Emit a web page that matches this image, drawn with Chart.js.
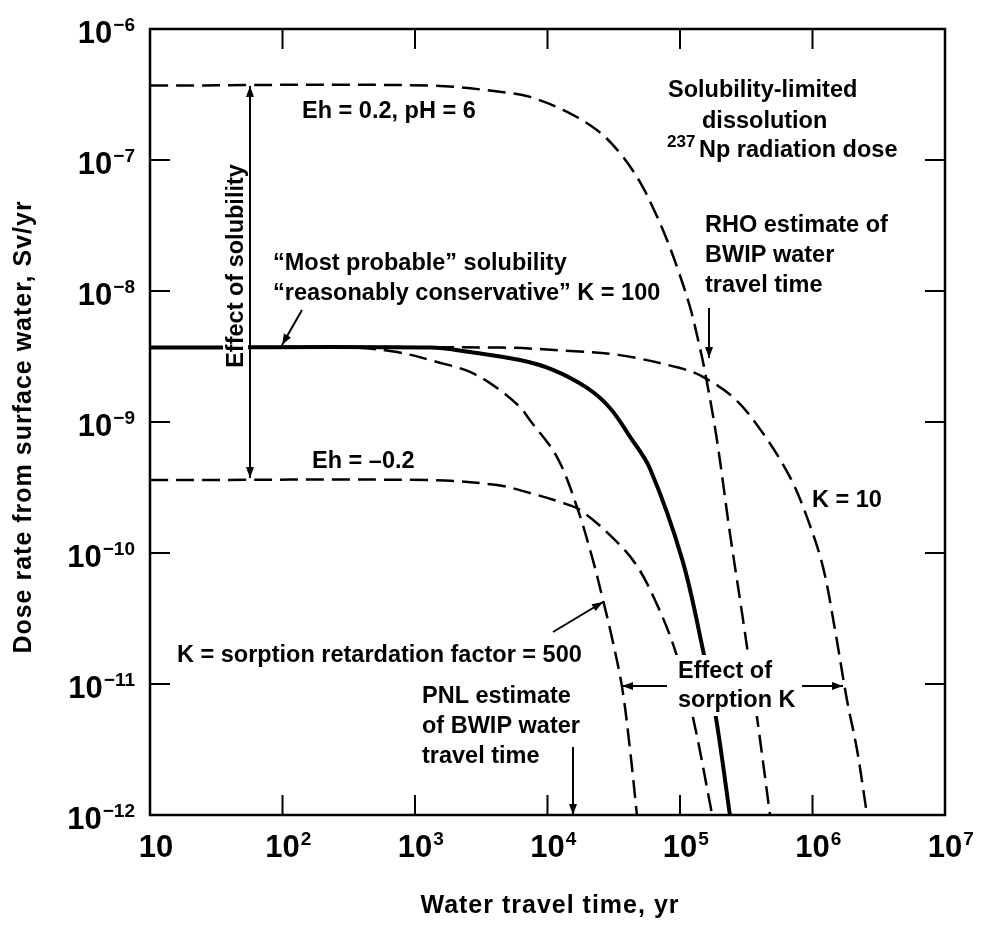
<!DOCTYPE html>
<html><head><meta charset="utf-8">
<script src="https://cdn.jsdelivr.net/npm/chart.js@4.4.1/dist/chart.umd.min.js"></script>
<style>html,body{margin:0;padding:0;background:#fff}canvas{display:block}</style>
</head><body>
<canvas id="c" width="983" height="925"></canvas>
<script>
// ---------- tick values and labels ----------
const xTickValues = [1e1, 1e2, 1e3, 1e4, 1e5, 1e6, 1e7];
const xTickBase = ['10', '10', '10', '10', '10', '10', '10'];
const xTickExp = ['', '2', '3', '4', '5', '6', '7'];
const yTickValues = [1e-12, 1e-11, 1e-10, 1e-9, 1e-8, 1e-7, 1e-6];
const yTickBase = ['10', '10', '10', '10', '10', '10', '10'];
const yTickExp = ['\u221212', '\u221211', '\u221210', '\u22129', '\u22128', '\u22127', '\u22126'];

// ---------- series (water travel time, yr  /  dose rate, Sv/yr) ----------
// Eh = 0.2, pH = 6 (dashed)
const timeEhHigh = [1e1, 1.3e3, 5.2e3, 7.4e3, 1.31e4, 2.37e4, 3.52e4, 4.99e4, 6.47e4, 7.98e4, 9.66e4, 1.19e5, 1.37e5, 1.55e5, 1.9e5, 2.38e5, 2.99e5, 3.81e5, 4.78e5];
const doseEhHigh = [3.7e-7, 3.7e-7, 3.25e-7, 3.03e-7, 2.41e-7, 1.69e-7, 1.13e-7, 6.79e-8, 4.01e-8, 2.45e-8, 1.45e-8, 7.55e-9, 4.23e-9, 2.37e-9, 7.3e-10, 1.42e-10, 3.1e-11, 5.6e-12, 1e-12];
// "Most probable" solubility, K = 100 (solid)
const timeK100 = [1e1, 1.3e3, 2.6e3, 6.2e3, 1.1e4, 1.99e4, 2.96e4, 4.2e4, 5.94e4, 1.04e5, 1.49e5, 1.87e5, 2.38e5];
const doseK100 = [3.7e-9, 3.7e-9, 3.42e-9, 2.97e-9, 2.5e-9, 1.82e-9, 1.28e-9, 7.7e-10, 4.4e-10, 8.9e-11, 1.82e-11, 5.5e-12, 1e-12];
// K = 10 (dashed)
const timeK10 = [1e1, 4.4e3, 1.48e4, 3.52e4, 1e5, 1.49e5, 2.6e5, 4.23e5, 6.76e5, 9.08e5, 1.2e6, 1.48e6, 1.82e6, 2.17e6, 2.58e6];
const doseK10 = [3.7e-9, 3.7e-9, 3.48e-9, 3.24e-9, 2.58e-9, 2.21e-9, 1.5e-9, 8.2e-10, 3.8e-10, 1.88e-10, 7.8e-11, 2.58e-11, 7.55e-12, 3.13e-12, 1e-12];
// K = 500 (dashed)
const timeK500 = [1e1, 3.23e2, 7.31e2, 1.47e3, 2.6e3, 4.16e3, 6.2e3, 7.38e3, 1.18e4, 1.67e4, 2.2e4, 2.62e4, 3.01e4, 3.65e4, 4.2e4, 4.73e4];
const doseK500 = [3.7e-9, 3.7e-9, 3.42e-9, 2.87e-9, 2.41e-9, 1.82e-9, 1.3e-9, 1.03e-9, 5.4e-10, 2.24e-10, 8.85e-11, 4.4e-11, 2.45e-11, 9.5e-12, 3.13e-12, 1e-12];
// Eh = -0.2 (dashed)
const timeEhLow = [1e1, 1.3e3, 4.16e3, 7.38e3, 1.31e4, 1.76e4, 2.96e4, 4.57e4, 6.47e4, 9.16e4, 1.25e5, 1.75e5];
const doseEhLow = [3.6e-10, 3.6e-10, 3.3e-10, 2.87e-10, 2.41e-10, 2.13e-10, 1.37e-10, 8.4e-11, 4.38e-11, 1.82e-11, 5.6e-12, 1e-12];

const pts = (xs, ys) => xs.map((v, i) => ({x: v, y: ys[i]}));
const FONT = '"Liberation Sans", Arial, Helvetica, sans-serif';
const DASH = [18, 8];

function mk(label, xs, ys, width, dash) {
  return {label, data: pts(xs, ys), showLine: true, borderColor: '#000', backgroundColor: '#000',
    borderWidth: width, borderDash: dash, pointRadius: 0, pointHoverRadius: 0,
    tension: 0.35, fill: false, borderCapStyle: 'butt'};
}

function arrowHead(ctx, x1, y1, x2, y2) {
  const ang = Math.atan2(y2 - y1, x2 - x1), L = 11, W = 4;
  ctx.beginPath();
  ctx.moveTo(x2, y2);
  ctx.lineTo(x2 - L * Math.cos(ang) + W * Math.sin(ang), y2 - L * Math.sin(ang) - W * Math.cos(ang));
  ctx.lineTo(x2 - L * Math.cos(ang) - W * Math.sin(ang), y2 - L * Math.sin(ang) + W * Math.cos(ang));
  ctx.closePath(); ctx.fill();
}
function arrow(ctx, x1, y1, x2, y2, both) {
  ctx.beginPath(); ctx.moveTo(x1, y1); ctx.lineTo(x2, y2); ctx.stroke();
  arrowHead(ctx, x1, y1, x2, y2);
  if (both) arrowHead(ctx, x2, y2, x1, y1);
}
function text(ctx, s, x, y, size, align) {
  ctx.font = 'bold ' + size + 'px ' + FONT;
  ctx.textAlign = align || 'left';
  ctx.textBaseline = 'alphabetic';
  ctx.fillText(s, x, y);
}

const deco = {
  id: 'deco',
  beforeDraw(chart) {
    const ctx = chart.ctx;
    ctx.save(); ctx.fillStyle = '#fff'; ctx.fillRect(0, 0, chart.width, chart.height); ctx.restore();
  },
  afterDatasetsDraw(chart) {
    const {ctx, chartArea: a, scales: {x, y}} = chart;
    ctx.save();
    ctx.fillStyle = '#000'; ctx.strokeStyle = '#000';

    // white patches behind in-plot labels
    ctx.fillStyle = '#fff';
    ctx.fillRect(223, 160, 25, 212);
    ctx.fillRect(672, 655, 128, 61);
    ctx.fillStyle = '#000';

    // frame
    ctx.lineWidth = 2.5;
    ctx.strokeRect(a.left, a.top, a.right - a.left, a.bottom - a.top);

    // inward ticks on all four sides
    ctx.lineWidth = 2;
    const TL = 20;
    xTickValues.forEach(v => {
      const p = x.getPixelForValue(v);
      if (p <= a.left + 1 || p >= a.right - 1) return;
      ctx.beginPath();
      ctx.moveTo(p, a.bottom); ctx.lineTo(p, a.bottom - TL);
      ctx.moveTo(p, a.top); ctx.lineTo(p, a.top + TL);
      ctx.stroke();
    });
    yTickValues.forEach(v => {
      const p = y.getPixelForValue(v);
      if (p <= a.top + 1 || p >= a.bottom - 1) return;
      ctx.beginPath();
      ctx.moveTo(a.left, p); ctx.lineTo(a.left + TL, p);
      ctx.moveTo(a.right, p); ctx.lineTo(a.right - TL, p);
      ctx.stroke();
    });

    // tick labels with superscripts
    ctx.textBaseline = 'alphabetic';
    xTickValues.forEach((v, i) => {
      const p = x.getPixelForValue(v);
      ctx.font = 'bold 31px ' + FONT;
      const wb = ctx.measureText(xTickBase[i]).width;
      ctx.textAlign = 'left';
      const x0 = p - wb / 2 + (xTickExp[i] ? 0 : 6);
      ctx.fillText(xTickBase[i], x0, a.bottom + 42);
      if (xTickExp[i]) {
        ctx.font = 'bold 19px ' + FONT;
        ctx.fillText(xTickExp[i], x0 + wb + 1, a.bottom + 30);
      }
    });
    yTickValues.forEach((v, i) => {
      const p = y.getPixelForValue(v);
      ctx.font = 'bold 19px ' + FONT;
      const we = ctx.measureText(yTickExp[i]).width;
      ctx.font = 'bold 31px ' + FONT;
      const wb = ctx.measureText(yTickBase[i]).width;
      const right = a.left - 15;
      ctx.textAlign = 'left';
      ctx.fillText(yTickBase[i], right - we - wb - 1, p + 14);
      ctx.font = 'bold 19px ' + FONT;
      ctx.fillText(yTickExp[i], right - we, p + 2);
    });

    // axis titles
    ctx.font = 'bold 25px ' + FONT;
    try { ctx.letterSpacing = '1px'; } catch (e) {}
    ctx.textAlign = 'center'; ctx.textBaseline = 'middle';
    ctx.fillText('Water travel time, yr', 550, 906);
    ctx.save();
    ctx.translate(24, 427); ctx.rotate(-Math.PI / 2);
    ctx.fillText('Dose rate from surface water, Sv/yr', 0, 0);
    ctx.restore();
    try { ctx.letterSpacing = '0px'; } catch (e) {}

    // annotations
    const S = 23.5;
    text(ctx, 'Eh = 0.2, pH = 6', 302, 118, S);
    text(ctx, 'Solubility-limited', 668, 97, S);
    text(ctx, 'dissolution', 702, 128, S);
    text(ctx, '237', 667, 147, 17);
    text(ctx, 'Np radiation dose', 699, 157, S);
    text(ctx, 'RHO estimate of', 705, 232, S);
    text(ctx, 'BWIP water', 705, 262, S);
    text(ctx, 'travel time', 705, 292, S);
    text(ctx, '\u201cMost probable\u201d solubility', 273, 270, S);
    text(ctx, '\u201creasonably conservative\u201d K = 100', 273, 300, S);
    text(ctx, 'Eh = \u20130.2', 312, 468, S);
    text(ctx, 'K = 10', 812, 507, S);
    text(ctx, 'K = sorption retardation factor = 500', 177, 662, S);
    text(ctx, 'PNL estimate', 422, 703, S);
    text(ctx, 'of BWIP water', 422, 733, S);
    text(ctx, 'travel time', 422, 763, S);
    text(ctx, 'Effect of', 678, 678, S);
    text(ctx, 'sorption K', 678, 707, S);

    // rotated "Effect of solubility"
    ctx.save();
    ctx.translate(243, 266); ctx.rotate(-Math.PI / 2);
    text(ctx, 'Effect of solubility', 0, 0, S, 'center');
    ctx.restore();

    // arrows
    ctx.lineWidth = 2;
    arrow(ctx, 250, 478, 250, 86, true);        // effect of solubility (double)
    arrow(ctx, 302, 310, 282, 345, false);      // most probable pointer
    arrow(ctx, 709, 308, 709, 358, false);      // RHO estimate
    arrow(ctx, 553, 632, 603, 602, false);      // K = 500 pointer
    arrow(ctx, 573, 747, 573, 815, false);      // PNL estimate
    arrow(ctx, 667, 686, 622, 686, false);      // sorption left
    arrow(ctx, 802, 686, 843, 686, false);      // sorption right

    ctx.restore();
  }
};

new Chart(document.getElementById('c'), {
  type: 'scatter',
  data: {
    datasets: [
      mk('Eh = 0.2, pH = 6', timeEhHigh, doseEhHigh, 2.5, DASH),
      mk('K = 10', timeK10, doseK10, 2.5, DASH),
      mk('K = 500', timeK500, doseK500, 2.5, DASH),
      mk('Eh = -0.2', timeEhLow, doseEhLow, 2.5, DASH),
      mk('K = 100', timeK100, doseK100, 4, [])
    ]
  },
  options: {
    responsive: false,
    animation: false,
    devicePixelRatio: 1,
    layout: {padding: {left: 150, right: 38, top: 29, bottom: 110}},
    plugins: {legend: {display: false}, tooltip: {enabled: false}, title: {display: false}},
    scales: {
      x: {type: 'logarithmic', min: 10, max: 1e7, display: false},
      y: {type: 'logarithmic', min: 1e-12, max: 1e-6, display: false}
    }
  },
  plugins: [deco]
});
</script>
</body></html>
